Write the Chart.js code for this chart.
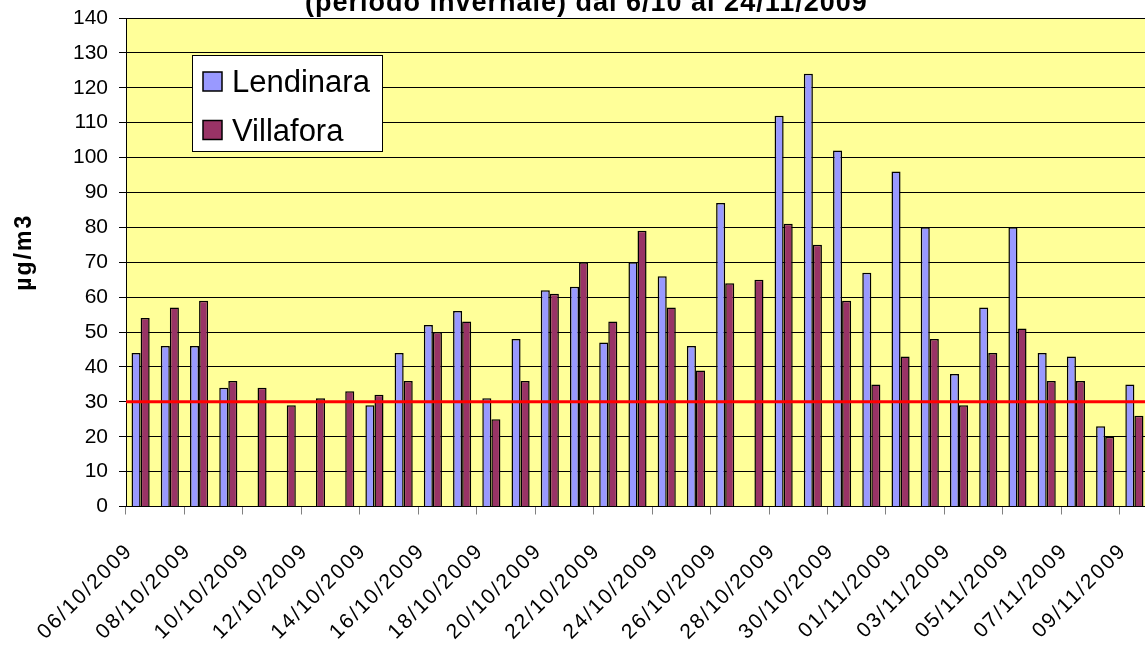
<!DOCTYPE html>
<html>
<head>
<meta charset="utf-8">
<script src="https://cdn.jsdelivr.net/npm/chart.js@4.4.1/dist/chart.umd.min.js"></script>
<style>
  html, body { margin: 0; padding: 0; background: #fff; overflow: hidden; }
  #pm10Chart { position: absolute; left: 0; top: 0; }
</style>
</head>
<body>
<canvas id="pm10Chart" width="1150" height="645"></canvas>
<script>
const giorni = [
  '06/10/2009', '07/10/2009', '08/10/2009', '09/10/2009', '10/10/2009', '11/10/2009', '12/10/2009',
  '13/10/2009', '14/10/2009', '15/10/2009', '16/10/2009', '17/10/2009', '18/10/2009', '19/10/2009',
  '20/10/2009', '21/10/2009', '22/10/2009', '23/10/2009', '24/10/2009', '25/10/2009', '26/10/2009',
  '27/10/2009', '28/10/2009', '29/10/2009', '30/10/2009', '31/10/2009', '01/11/2009', '02/11/2009',
  '03/11/2009', '04/11/2009', '05/11/2009', '06/11/2009', '07/11/2009', '08/11/2009', '09/11/2009'
];

const lendinara = [44, 46, 46, 34, null, null, null, null, 29, 44, 52, 56, 31, 48, 62, 63, 47, 70,
  66, 46, 87, null, 112, 124, 102, 67, 96, 80, 38, 57, 80, 44, 43, 23, 35];

const villafora = [54, 57, 59, 36, 34, 29, 31, 33, 32, 36, 50, 53, 25, 36, 61, 70, 53, 79,
  57, 39, 64, 65, 81, 75, 59, 35, 43, 48, 29, 44, 51, 36, 36, 20, 26];

const soglia = 30;
const titolo = '(periodo invernale) dal 6/10 al 24/11/2009';
const font = '"Liberation Sans", Arial, sans-serif';

// excel-like wide spacing on the rotated date labels and the axis title
const spaziatura = {
  id: 'spaziatura',
  beforeDraw(chart) {
    const sx = chart.scales.x;
    const sy = chart.scales.y;
    if (!sx._spaced) {
      const orig = sx.drawLabels;
      sx.drawLabels = function (area) {
        this.ctx.save();
        this.ctx.letterSpacing = '2px';
        orig.call(this, area);
        this.ctx.restore();
      };
      sx._spaced = true;
    }
    if (!sy._spaced) {
      const orig = sy.drawTitle;
      sy.drawTitle = function () {
        this.ctx.save();
        this.ctx.letterSpacing = '2px';
        this.ctx.translate(0, -10);
        orig.call(this);
        this.ctx.restore();
      };
      sy._spaced = true;
    }
  }
};

const sfondo = {
  id: 'sfondo',
  beforeDraw(chart) {
    const {ctx, chartArea: a} = chart;
    ctx.save();
    ctx.fillStyle = '#FFFF99';
    ctx.fillRect(a.left, a.top, a.right - a.left, a.bottom - a.top);
    ctx.restore();
  }
};

const lineaSoglia = {
  id: 'lineaSoglia',
  afterDatasetsDraw(chart) {
    const {ctx, chartArea: a, scales} = chart;
    const y = scales.y.getPixelForValue(soglia);
    ctx.save();
    ctx.strokeStyle = '#FF0000';
    ctx.lineWidth = 3;
    ctx.beginPath();
    ctx.moveTo(a.left, y);
    ctx.lineTo(a.right, y);
    ctx.stroke();
    ctx.restore();
  }
};

const legenda = {
  id: 'legenda',
  afterDraw(chart) {
    const ctx = chart.ctx;
    ctx.save();
    ctx.fillStyle = '#fff';
    ctx.strokeStyle = '#000';
    ctx.lineWidth = 1;
    ctx.fillRect(192, 55, 190, 96);
    ctx.strokeRect(192.5, 55.5, 190, 96);
    ctx.font = '31px ' + font;
    ctx.textBaseline = 'alphabetic';
    chart.data.datasets.forEach((ds, i) => {
      const y = 72 + i * 48.5;
      ctx.fillStyle = ds.backgroundColor;
      ctx.fillRect(203, y, 19, 19);
      ctx.lineWidth = 1.5;
      ctx.strokeRect(203, y, 19, 19);
      ctx.fillStyle = '#000';
      ctx.fillText(ds.label, 232, y + 20);
    });
    ctx.restore();
  }
};

const titoloGrafico = {
  id: 'titoloGrafico',
  afterDraw(chart) {
    const ctx = chart.ctx;
    ctx.save();
    ctx.font = 'bold 27px ' + font;
    ctx.letterSpacing = '1px';
    ctx.fillStyle = '#000';
    ctx.textBaseline = 'alphabetic';
    ctx.textAlign = 'left';
    ctx.fillText(titolo, 305, 11);
    ctx.restore();
  }
};

const pm10Chart = new Chart(document.getElementById('pm10Chart'), {
  type: 'bar',
  data: {
    labels: giorni,
    datasets: [{
      label: 'Lendinara',
      data: lendinara,
      backgroundColor: '#9999FF',
      borderColor: '#000000',
      borderWidth: 1.5,
      categoryPercentage: 0.62,
      barPercentage: 1
    }, {
      label: 'Villafora',
      data: villafora,
      backgroundColor: '#993366',
      borderColor: '#000000',
      borderWidth: 1.5,
      categoryPercentage: 0.62,
      barPercentage: 1
    }]
  },
  options: {
    responsive: false,
    animation: false,
    devicePixelRatio: 1,
    layout: { padding: { top: 18, left: 0, right: 1, bottom: 0 } },
    plugins: {
      legend: { display: false },
      tooltip: { enabled: false }
    },
    scales: {
      x: {
        offset: true,
        grid: {
          offset: true,
          drawOnChartArea: false,
          drawTicks: true,
          tickLength: 8,
          color: ctx => ctx.index % 2 === 0 ? '#808080' : 'rgba(0,0,0,0)'
        },
        border: { color: '#000', width: 1 },
        ticks: {
          autoSkip: false,
          minRotation: 45,
          maxRotation: 45,
          padding: 24,
          labelOffset: -11,
          color: '#000',
          font: { family: font, size: 21 },
          callback: function (v, i) {
            return i % 2 === 0 ? this.getLabelForValue(v) : '';
          }
        },
        afterFit(s) {
          s.height = 138.5;
          s.paddingLeft = 0;
          s.paddingRight = 0;
        }
      },
      y: {
        min: 0,
        max: 140,
        ticks: {
          stepSize: 10,
          padding: 11,
          color: '#000',
          font: { family: font, size: 21 }
        },
        grid: { color: '#000', lineWidth: 1, tickLength: 7 },
        border: { color: '#000', width: 1 },
        title: {
          display: true,
          text: 'µg/m3',
          color: '#000',
          font: { family: font, size: 23, weight: 'bold' },
          padding: { top: 11, bottom: 0 }
        },
        afterFit(s) {
          s.width = 126;
          s.paddingTop = 0;
          s.paddingBottom = 0;
        }
      }
    }
  },
  plugins: [spaziatura, sfondo, lineaSoglia, legenda, titoloGrafico]
});
</script>
</body>
</html>
